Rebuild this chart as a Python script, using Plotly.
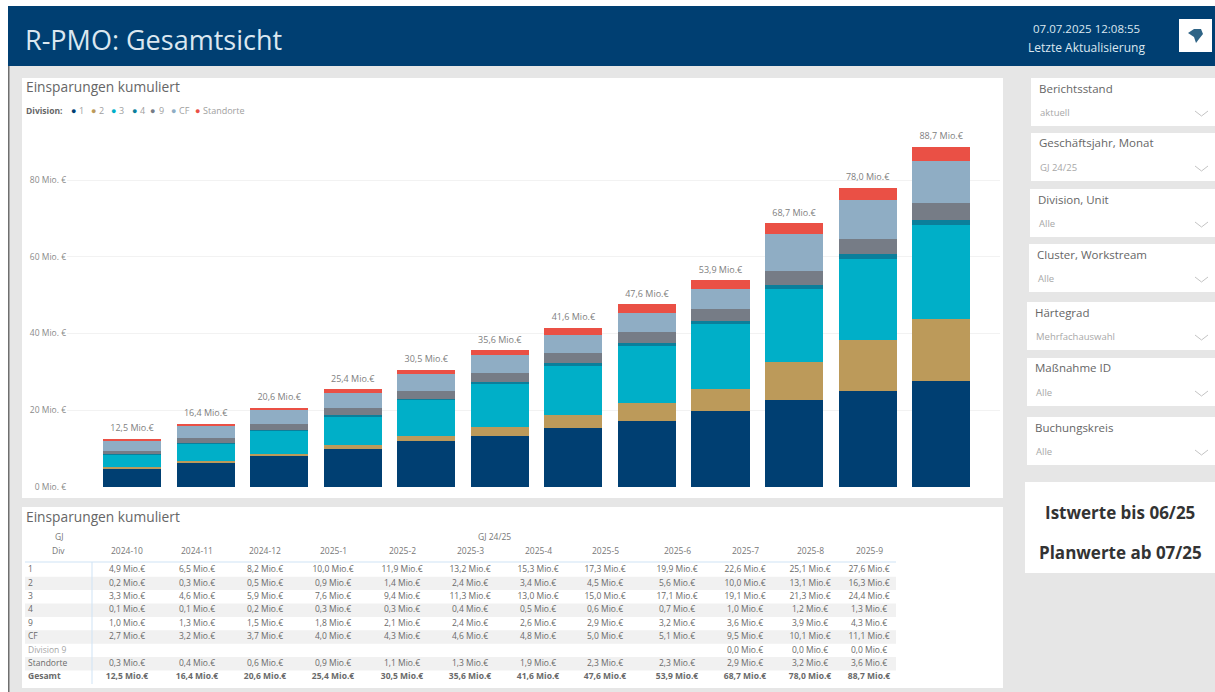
import plotly.graph_objects as go

W, H = 1215, 692

months = ["2024-10", "2024-11", "2024-12", "2025-1", "2025-2", "2025-3",
          "2025-4", "2025-5", "2025-6", "2025-7", "2025-8", "2025-9"]
div_1 = [4.9, 6.5, 8.2, 10.0, 11.9, 13.2, 15.3, 17.3, 19.9, 22.6, 25.1, 27.6]
div_2 = [0.2, 0.3, 0.5, 0.9, 1.4, 2.4, 3.4, 4.5, 5.6, 10.0, 13.1, 16.3]
div_3 = [3.3, 4.6, 5.9, 7.6, 9.4, 11.3, 13.0, 15.0, 17.1, 19.1, 21.3, 24.4]
div_4 = [0.1, 0.1, 0.2, 0.3, 0.3, 0.4, 0.5, 0.6, 0.7, 1.0, 1.2, 1.3]
div_9 = [1.0, 1.3, 1.5, 1.8, 2.1, 2.4, 2.6, 2.9, 3.2, 3.6, 3.9, 4.3]
div_cf = [2.7, 3.2, 3.7, 4.0, 4.3, 4.6, 4.8, 5.0, 5.1, 9.5, 10.1, 11.1]
division_9 = [None, None, None, None, None, None, None, None, None, 0.0, 0.0, 0.0]
standorte = [0.3, 0.4, 0.6, 0.9, 1.1, 1.3, 1.9, 2.3, 2.3, 2.9, 3.2, 3.6]
gesamt = [12.5, 16.4, 20.6, 25.4, 30.5, 35.6, 41.6, 47.6, 53.9, 68.7, 78.0, 88.7]

bar_names = ["1", "2", "3", "4", "9", "CF", "Standorte"]
bar_values = [div_1, div_2, div_3, div_4, div_9, div_cf, standorte]
bar_colors = ["#003f72", "#bc9a5a", "#00afc8", "#0b7f9b", "#767c86", "#8fadc4", "#ea5045"]

axis_ticks = [0, 20, 40, 60, 80]
axis_labels = ["0 Mio. €", "20 Mio. €", "40 Mio. €", "60 Mio. €", "80 Mio. €"]

row_names = ["1", "2", "3", "4", "9", "CF", "Division 9", "Standorte", "Gesamt"]
row_values = [div_1, div_2, div_3, div_4, div_9, div_cf, division_9, standorte, gesamt]
slicers = [("Berichtsstand", "aktuell"), ("Geschäftsjahr, Monat", "GJ 24/25"),
           ("Division, Unit", "Alle"), ("Cluster, Workstream", "Alle"),
           ("Härtegrad", "Mehrfachauswahl"), ("Maßnahme ID", "Alle"),
           ("Buchungskreis", "Alle")]

FONT = "Open Sans"
NAVY = "#003f72"
TABLE_TEXT = "#6a6a6a"


def px(x):
    return x / W


def py(y):
    return 1 - y / H


def money(v):
    return "" if v is None else f"{v:.1f}".replace(".", ",") + " Mio.€"


def rect(x0, y0, x1, y1, color):
    return dict(type="rect", xref="paper", yref="paper", layer="below",
                x0=px(x0), x1=px(x1), y0=py(y0), y1=py(y1),
                fillcolor=color, line_width=0)


def label(x, y, text, size, color, anchor="left", bold=False):
    return dict(xref="paper", yref="paper", x=px(x), y=py(y), text=f"<b>{text}</b>" if bold else text,
                showarrow=False, xanchor=anchor, yanchor="middle",
                font=dict(family=FONT, size=size, color=color))


fig = go.Figure()

# Stacked savings per division
for name, values, color in zip(bar_names, bar_values, bar_colors):
    fig.add_bar(x=months, y=values, name=name, marker=dict(color=color, line_width=0),
                hoverinfo="skip")

# Totals above each stack; the hidden marker keeps the text clear of the bar
fig.add_scatter(x=months, y=gesamt, mode="markers+text", text=[money(v) for v in gesamt],
                marker=dict(size=7, opacity=0),
                textposition="top center", textfont=dict(family=FONT, size=9, color="#808080"),
                hoverinfo="skip", cliponaxis=False)

# Detail table: one text trace per row on its own axes
ROW_TOP, ROW_STEP = 570, 13.4
column_centres = [127, 197, 265, 333, 402, 470, 538, 605, 677, 745, 810, 869]
for name, values in zip(row_names, row_values):
    bold = name == "Gesamt"
    texts = [f"<b>{money(v)}</b>" if bold else money(v) for v in values]
    fig.add_scatter(x=column_centres, y=[name] * len(values), text=texts, mode="text",
                    textposition="middle center", xaxis="x2", yaxis="y2", hoverinfo="skip",
                    cliponaxis=False, textfont=dict(family=FONT, size=8.5, color=TABLE_TEXT))
    shown = f"<b>{name}</b>" if bold else name
    shade = "#a6a6a6" if name == "Division 9" else TABLE_TEXT
    fig.add_scatter(x=[28], y=[name], text=[shown], mode="text", textposition="middle right",
                    xaxis="x2", yaxis="y2", hoverinfo="skip", cliponaxis=False,
                    textfont=dict(family=FONT, size=8.5, color=shade))

shapes = [
    rect(0, 0, W, 6, "#ffffff"),
    rect(0, 6, 8, H, "#ffffff"),
    rect(8, 66, 9.5, H, "#6f6f6f"),
    rect(8, 6, W, 66, NAVY),
    rect(1179, 19, 1212, 52, "#ffffff"),
    rect(22, 78, 1003, 498, "#ffffff"),
    rect(22, 507, 1003, 688, "#ffffff"),
    rect(1025, 482, W, 573, "#ffffff"),
]
# Alternating row bands
for i in range(1, len(row_names), 2):
    centre = ROW_TOP + ROW_STEP * i
    shapes.append(rect(25, centre - ROW_STEP / 2, 896, centre + ROW_STEP / 2, "#f1f1f1"))
shapes += [
    # Table rules
    dict(type="line", xref="paper", yref="paper", x0=px(25), x1=px(896), y0=py(562), y1=py(562),
         line=dict(color="#cfe3f5", width=1)),
    dict(type="line", xref="paper", yref="paper", x0=px(92), x1=px(92), y0=py(562), y1=py(684),
         line=dict(color="#cfe3f5", width=1)),
    # Logo glyph
    dict(type="path", xref="paper", yref="paper", fillcolor="#2f6486", line_width=0,
         path=" ".join([f"M {px(1188)} {py(33)}", f"L {px(1194)} {py(29)}", f"L {px(1201)} {py(29)}",
                        f"L {px(1203)} {py(34)}", f"L {px(1199)} {py(39)}", f"L {px(1196)} {py(43)}",
                        f"L {px(1194)} {py(37)}", "Z"])),
]

annotations = [
    label(23, 39, "R-PMO: Gesamtsicht", 27, "#dbe7f0"),
    label(1086.5, 28, "07.07.2025 12:08:55", 11.5, "#dbe7f0", "center"),
    label(1086.5, 48, "Letzte Aktualisierung", 12, "#dbe7f0", "center"),
    label(24, 87, "Einsparungen kumuliert", 13.75, "#666666"),
    label(24, 516, "Einsparungen kumuliert", 13.75, "#666666"),
    label(1120, 512, "Istwerte bis 06/25", 17, "#333333", "center", True),
    label(1120, 552, "Planwerte ab 07/25", 17, "#333333", "center", True),
    label(59, 536, "GJ", 8.5, "#777777", "center"),
    label(494, 536, "GJ 24/25", 8.5, "#777777", "center"),
    label(59, 550, "Div", 8.5, "#777777", "center"),
    label(24, 111, "Division:", 8.5, "#666666", bold=True),
]
for centre, month in zip(column_centres, months):
    annotations.append(label(centre, 550, month, 8.5, "#777777", "center"))

# Legend row built from coloured dots and labels
legend_dots = [73, 93, 113, 134, 153, 173, 197]
for x, name, color in zip(legend_dots, bar_names, bar_colors):
    annotations.append(label(x, 111, "●", 9, color, "center"))
    annotations.append(label(x + 4, 111, name, 9, "#a0a0a0"))

# Slicer column on the right
card_tops = [78, 133, 189, 244, 302, 358, 417]
card_lefts = [1031, 1031, 1030, 1029, 1027, 1027, 1027]
for (title, value), top, left in zip(slicers, card_tops, card_lefts):
    shapes.append(rect(left, top, W, top + 48, "#ffffff"))
    annotations.append(label(left + 6, top + 10, title, 11.5, "#666666"))
    annotations.append(label(left + 7, top + 34, value, 9.5, "#a8a8a8"))
    shapes.append(dict(type="path", xref="paper", yref="paper", line=dict(color="#c4c4c4", width=1),
                       path=f"M {px(1195)} {py(top + 33)} L {px(1201.5)} {py(top + 38)} L {px(1208)} {py(top + 33)}"))

table_bottom = ROW_TOP + ROW_STEP * (len(row_names) - 0.5)
table_top = ROW_TOP - ROW_STEP / 2

fig.update_layout(
    width=W, height=H, autosize=False, barmode="stack", bargap=0.21, showlegend=False,
    margin=dict(l=0, r=0, t=0, b=0, autoexpand=False), paper_bgcolor="#e6e6e6", plot_bgcolor="rgba(0,0,0,0)",
    font=dict(family=FONT), shapes=shapes, annotations=annotations,
    xaxis=dict(domain=[px(67), px(1000)], type="category", range=[-0.884, 11.8],
               visible=False, fixedrange=True, automargin=False),
    yaxis=dict(domain=[py(487), py(125)], range=[0, (487 - 125) / 3.8375], tickvals=axis_ticks,
               ticktext=axis_labels, gridcolor="#f2f2f2", gridwidth=1, zeroline=False,
               tickfont=dict(family=FONT, size=8.5, color="#8a8a8a"), ticklen=0, ticks="",
               showline=False, fixedrange=True, automargin=False),
    xaxis2=dict(domain=[0, 1], range=[0, W], anchor="y2", visible=False, fixedrange=True, automargin=False),
    yaxis2=dict(domain=[py(table_bottom), py(table_top)], type="category", categoryorder="array",
                categoryarray=row_names, range=[len(row_names) - 0.5, -0.5], anchor="x2",
                visible=False, fixedrange=True, automargin=False),
)

fig.write_html("out.html", config=dict(displayModeBar=False))
